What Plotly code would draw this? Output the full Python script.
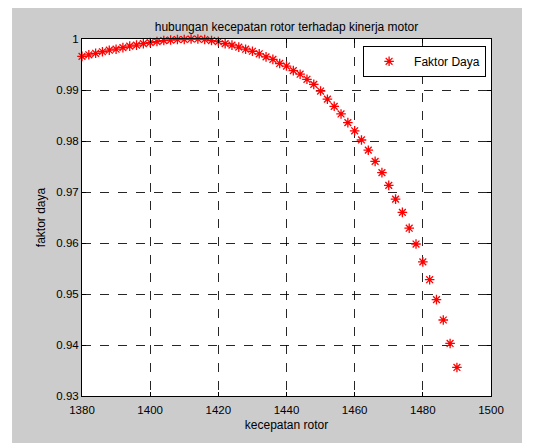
import plotly.graph_objects as go

kecepatan_rotor = [1380, 1382, 1384, 1386, 1388, 1390, 1392, 1394, 1396, 1398,
                   1400, 1402, 1404, 1406, 1408, 1410, 1412, 1414, 1416, 1418,
                   1420, 1422, 1424, 1426, 1428, 1430, 1432, 1434, 1436, 1438,
                   1440, 1442, 1444, 1446, 1448, 1450, 1452, 1454, 1456, 1458,
                   1460, 1462, 1464, 1466, 1468, 1470, 1472, 1474, 1476, 1478,
                   1480, 1482, 1484, 1486, 1488, 1490]
faktor_daya = [0.9966, 0.9969, 0.9972, 0.9975, 0.9978, 0.9980, 0.9983, 0.9986, 0.9988, 0.9991,
               0.9993, 0.9995, 0.9997, 0.9998, 0.9999, 0.9999, 1.0000, 1.0000, 0.9999, 0.9997,
               0.9995, 0.9991, 0.9988, 0.9984, 0.9980, 0.9976, 0.9971, 0.9965, 0.9960, 0.9952,
               0.9947, 0.9938, 0.9931, 0.9921, 0.9911, 0.9898, 0.9882, 0.9868, 0.9853, 0.9836,
               0.9820, 0.9802, 0.9782, 0.9760, 0.9738, 0.9713, 0.9686, 0.9660, 0.9629, 0.9598,
               0.9563, 0.9528, 0.9489, 0.9449, 0.9403, 0.9356]

x_ticks = [1380, 1400, 1420, 1440, 1460, 1480, 1500]
y_ticks = [0.93, 0.94, 0.95, 0.96, 0.97, 0.98, 0.99, 1]
y_tick_labels = ["0.93", "0.94", "0.95", "0.96", "0.97", "0.98", "0.99", "1"]

FONT = "Liberation Sans, Arial, sans-serif"

fig = go.Figure()
fig.add_trace(go.Scatter(
    x=kecepatan_rotor, y=faktor_daya, mode="markers", name="Faktor Daya",
    marker=dict(symbol="asterisk-open", size=8, color="red",
                line=dict(color="red", width=1.3)),
    cliponaxis=False,
))

axis_common = dict(
    showline=True, linecolor="black", linewidth=1, mirror="ticks",
    ticks="inside", ticklen=4, tickcolor="black", tickwidth=1,
    showgrid=True, gridcolor="rgba(0,0,0,0.85)", griddash="dash", gridwidth=1,
    zeroline=False, tickfont=dict(family=FONT, size=11.5, color="black"),
)

# page body has an 8px margin; figure is sized/offset to compensate
fig.update_layout(
    width=527, height=438,
    margin=dict(l=74, r=44, t=31, b=50, pad=0),
    paper_bgcolor="white", plot_bgcolor="white",
    font=dict(family=FONT, size=12, color="black"),
    title=dict(text="hubungan kecepatan rotor terhadap kinerja motor",
               x=0.5, xref="paper", xanchor="center",
               y=1.0, yref="paper", yanchor="bottom", pad=dict(b=8),
               font=dict(family=FONT, size=12, color="black")),
    xaxis=dict(range=[1380, 1500], tickvals=x_ticks, **axis_common,
               ticklabelstandoff=3,
               title=dict(text="kecepatan rotor", standoff=5,
                          font=dict(family=FONT, size=12))),
    yaxis=dict(range=[0.93, 1.0], tickvals=y_ticks, ticktext=y_tick_labels,
               **axis_common,
               title=dict(text="faktor daya", standoff=8,
                          font=dict(family=FONT, size=12))),
    showlegend=True,
    legend=dict(x=0.988, y=0.981, xanchor="right", yanchor="top",
                bgcolor="white", bordercolor="black", borderwidth=1,
                font=dict(family=FONT, size=12, color="black"),
                itemwidth=40),
    shapes=[
        dict(type="rect", xref="paper", yref="paper", layer="below",
             x0=-0.1711, x1=1.0758, y0=-0.1317, y1=1.0924,
             fillcolor="#cccccc", line=dict(width=0)),
        dict(type="rect", xref="paper", yref="paper", layer="below",
             x0=0, x1=1, y0=0, y1=1,
             fillcolor="white", line=dict(width=0)),
    ],
)

fig.write_html("out.html")
